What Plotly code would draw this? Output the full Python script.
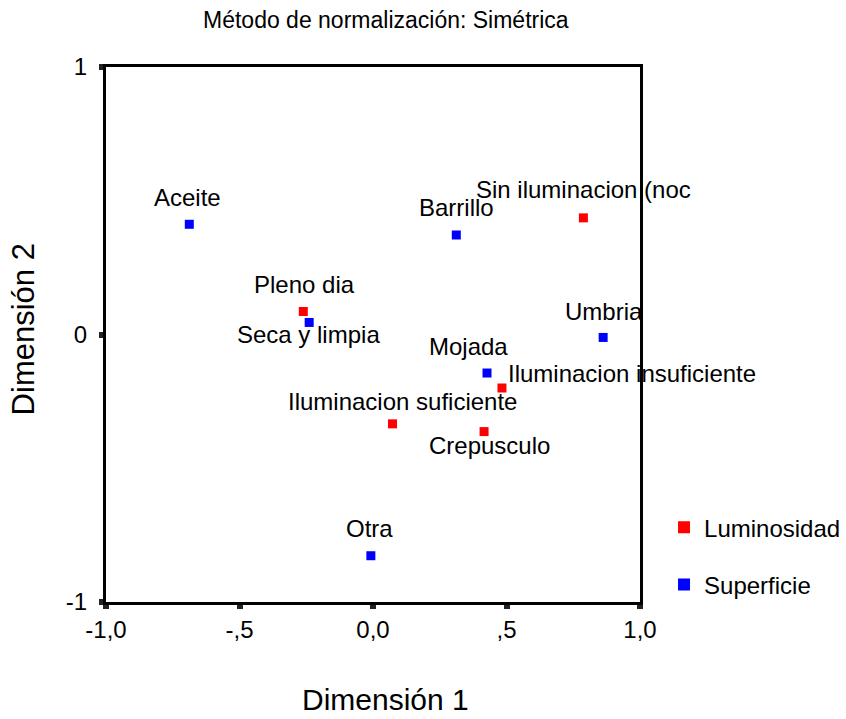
import plotly.graph_objects as go

# ---- data ----
lum_names = ["Sin iluminacion (noc", "Pleno dia", "Iluminacion insuficiente",
             "Iluminacion suficiente", "Crepusculo"]
lum_x = [0.788, -0.261, 0.483, 0.073, 0.416]
lum_y = [0.436, 0.086, -0.200, -0.334, -0.363]

sup_names = ["Aceite", "Barrillo", "Seca y limpia", "Umbria", "Mojada", "Otra"]
sup_x = [-0.688, 0.312, -0.239, 0.862, 0.427, -0.008]
sup_y = [0.412, 0.372, 0.045, -0.011, -0.144, -0.827]

x_ticks = [-1.0, -0.5, 0.0, 0.5, 1.0]
x_ticktext = ["-1,0", "-,5", "0,0", ",5", "1,0"]
y_ticks = [-1, 0, 1]
y_ticktext = ["-1", "0", "1"]

# label placement (pixel offsets, anchor) - style only
lum_offsets = [(0, 28, "center"), (1, 27, "center"), (4, 15, "left"),
               (10, 22, "center"), (5, -14, "center")]
sup_offsets = [(-2, 27, "center"), (0, 27, "center"), (-1, -12, "center"),
               (1, 26, "center"), (-19, 27, "center"), (-1, 27, "center")]

FONT = "Liberation Sans, Arial, sans-serif"
RED = "#FF0000"
BLUE = "#0000FF"

fig = go.Figure()
fig.add_trace(go.Scatter(x=lum_x, y=lum_y, mode="markers", name="Luminosidad",
                         marker=dict(symbol="square", size=9, color=RED),
                         legendgroup="lum", hoverinfo="text", text=lum_names))
fig.add_trace(go.Scatter(x=sup_x, y=sup_y, mode="markers", name="Superficie",
                         marker=dict(symbol="square", size=9, color=BLUE),
                         legendgroup="sup", hoverinfo="text", text=sup_names))

annotations = []
for names, xs, ys, offs in [(lum_names, lum_x, lum_y, lum_offsets),
                            (sup_names, sup_x, sup_y, sup_offsets)]:
    for n, xv, yv, (dx, dy, anc) in zip(names, xs, ys, offs):
        annotations.append(dict(x=xv, y=yv, xref="x", yref="y", text=n,
                                showarrow=False, xanchor=anc, yanchor="middle",
                                xshift=dx, yshift=dy,
                                font=dict(family=FONT, size=24, color="black")))

annotations.append(dict(text="Método de normalización: Simétrica", x=0.524, y=1.088,
                        xref="paper", yref="paper", showarrow=False,
                        xanchor="center", yanchor="middle",
                        font=dict(family=FONT, size=23, color="black")))
annotations.append(dict(text="Dimensión 1", x=0.524, y=-0.183,
                        xref="paper", yref="paper", showarrow=False,
                        xanchor="center", yanchor="middle",
                        font=dict(family=FONT, size=30, color="black")))
annotations.append(dict(text="Dimensión 2", x=-0.155, y=0.51, textangle=-90,
                        xref="paper", yref="paper", showarrow=False,
                        xanchor="center", yanchor="middle",
                        font=dict(family=FONT, size=31, color="black")))

axis_common = dict(showline=True, linewidth=3, linecolor="black", mirror=True,
                   showgrid=False, zeroline=False, ticks="outside", ticklen=4,
                   tickwidth=6, tickcolor="#222222",
                   tickfont=dict(family=FONT, size=24, color="black"))

fig.update_layout(
    width=846, height=719,
    margin=dict(l=106, r=206, t=67, b=117, autoexpand=False),
    paper_bgcolor="white", plot_bgcolor="white",
    xaxis=dict(range=[-1, 1], tickvals=x_ticks, ticktext=x_ticktext, **axis_common),
    yaxis=dict(range=[-1, 1], tickvals=y_ticks, ticktext=y_ticktext,
               ticklabelstandoff=7, **axis_common),
    annotations=annotations,
    showlegend=True,
    legend=dict(x=1.045, y=0.181, xanchor="left", yanchor="top",
                font=dict(family=FONT, size=24, color="black"),
                tracegroupgap=23, bgcolor="rgba(0,0,0,0)", itemsizing="constant"),
)

fig.write_html("out.html", config={"displayModeBar": False})

# remove default browser body margin so the figure sits at the page origin
with open("out.html", "r", encoding="utf-8") as f:
    html = f.read()
html = html.replace("<head>", "<head><style>html,body{margin:0;padding:0;overflow:hidden;}</style>", 1)
with open("out.html", "w", encoding="utf-8") as f:
    f.write(html)
